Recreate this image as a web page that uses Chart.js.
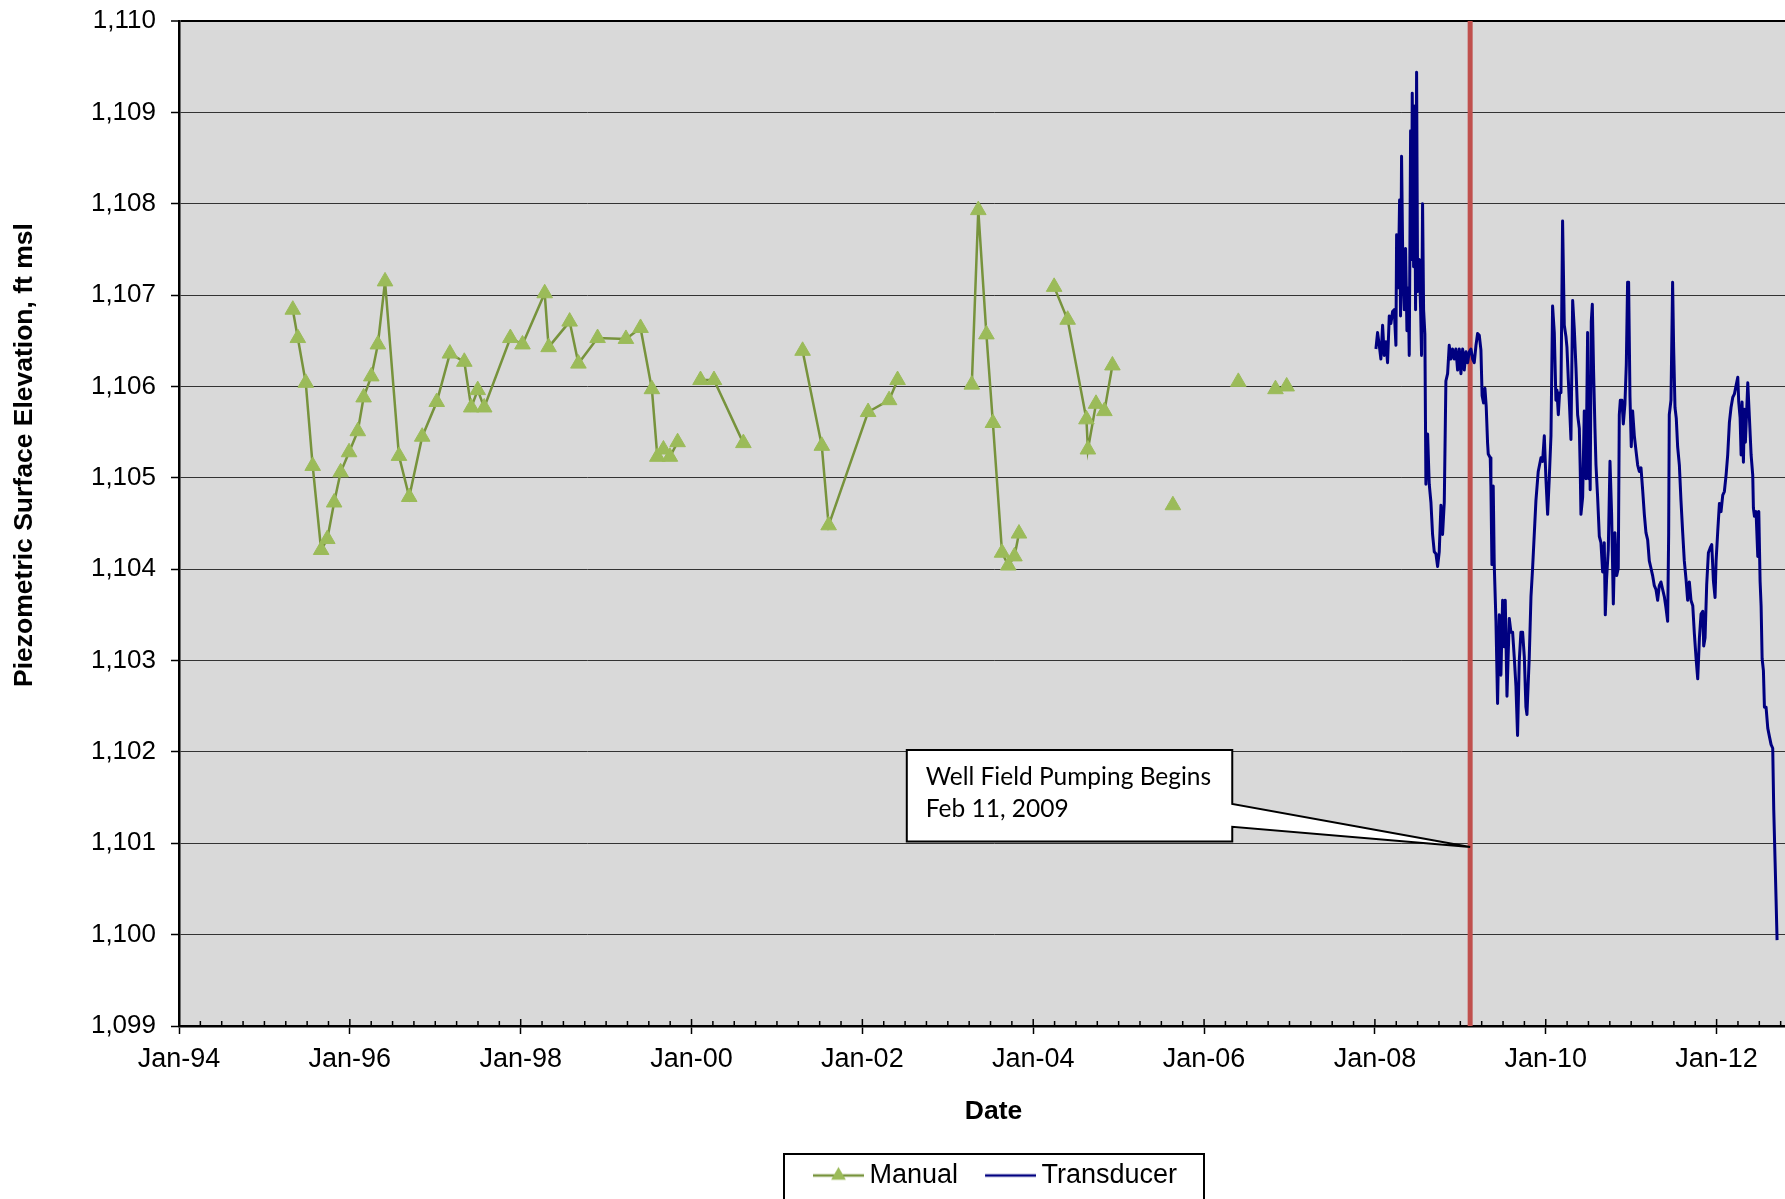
<!DOCTYPE html>
<html>
<head>
<meta charset="utf-8">
<script src="https://cdn.jsdelivr.net/npm/chart.js@4.4.1/dist/chart.umd.min.js"></script>
<style>
html,body{margin:0;padding:0;overflow:hidden;background:#fff;width:1785px;height:1199px;}
canvas{display:block;}
</style>
</head>
<body>
<canvas id="c" width="1818" height="1199"></canvas>
<script>
// ---------------- DATA ----------------
const manualYears = [1995.332,1995.391,1995.484,1995.565,1995.664,1995.736,1995.816,1995.892,1995.991,1996.093,
  1996.161,1996.251,1996.328,1996.412,1996.575,1996.695,1996.847,1997.017,1997.171,1997.340,
  1997.421,1997.497,1997.573,1997.879,1998.021,1998.281,1998.327,1998.573,1998.676,1998.900,
  1999.232,1999.403,1999.536,1999.600,1999.671,1999.747,1999.837,2000.105,2000.263,2000.607,
  2001.300,2001.525,2001.605,2002.067,2002.313,2002.412,2003.281,2003.357,2003.452,2003.528,
  2003.635,2003.708,2003.780,2003.833,2004.245,2004.403,2004.623,2004.640,2004.735,2004.833,
  2004.927,2005.635,2006.401,2006.836,2006.967];
const manualValues = [1106.84,1106.53,1106.04,1105.13,1104.21,1104.33,1104.73,1105.06,1105.28,1105.51,
  1105.88,1106.11,1106.46,1107.15,1105.24,1104.79,1105.45,1105.83,1106.36,1106.27,
  1105.77,1105.96,1105.77,1106.53,1106.46,1107.02,1106.43,1106.71,1106.25,1106.53,
  1106.52,1106.64,1105.97,1105.23,1105.31,1105.23,1105.39,1106.07,1106.07,1105.38,
  1106.39,1105.35,1104.48,1105.72,1105.85,1106.07,1106.02,1107.93,1106.57,1105.60,
  1104.18,1104.04,1104.14,1104.39,1107.09,1106.73,1105.64,1105.31,1105.81,1105.73,
  1106.23,1104.70,1106.05,1105.97,1106.00];
// indices after which the manual line is not connected
const manualBreakAfter = [36,39,45,53,60,61,62];

const transducerYears = [
  2008.012,2008.031,2008.051,2008.070,2008.090,2008.109,2008.129,2008.148,2008.168,2008.187,
  2008.207,2008.226,2008.246,2008.254,2008.273,2008.289,2008.300,2008.312,2008.328,2008.343,
  2008.359,2008.375,2008.390,2008.402,2008.418,2008.429,2008.437,2008.453,2008.464,2008.476,
  2008.488,2008.500,2008.519,2008.535,2008.546,2008.558,2008.570,2008.585,2008.597,2008.617,
  2008.636,2008.656,2008.675,2008.695,2008.714,2008.734,2008.753,2008.773,2008.792,2008.812,
  2008.831,2008.851,2008.870,2008.890,2008.909,2008.929,2008.948,2008.968,2008.988,2009.007,
  2009.027,2009.046,2009.066,2009.085,2009.105,2009.124,2009.144,2009.163,2009.183,2009.202,
  2009.222,2009.241,2009.255,2009.272,2009.288,2009.303,2009.319,2009.327,2009.350,2009.358,
  2009.370,2009.385,2009.397,2009.417,2009.436,2009.456,2009.475,2009.495,2009.514,2009.526,
  2009.546,2009.573,2009.592,2009.612,2009.631,2009.651,2009.670,2009.690,2009.709,2009.729,
  2009.749,2009.768,2009.780,2009.807,2009.827,2009.846,2009.885,2009.912,2009.944,2009.963,
  2009.983,2010.002,2010.022,2010.041,2010.061,2010.080,2010.100,2010.119,2010.131,2010.147,
  2010.162,2010.178,2010.197,2010.217,2010.236,2010.248,2010.264,2010.279,2010.295,2010.315,
  2010.334,2010.354,2010.373,2010.393,2010.404,2010.412,2010.432,2010.451,2010.471,2010.490,
  2010.502,2010.514,2010.520,2010.533,2010.545,2010.560,2010.576,2010.588,2010.607,2010.627,
  2010.646,2010.666,2010.685,2010.697,2010.712,2010.732,2010.752,2010.771,2010.791,2010.810,
  2010.830,2010.849,2010.861,2010.873,2010.892,2010.908,2010.927,2010.943,2010.958,2010.970,
  2010.986,2011.001,2011.017,2011.037,2011.056,2011.076,2011.095,2011.115,2011.134,2011.154,
  2011.173,2011.193,2011.212,2011.232,2011.251,2011.271,2011.290,2011.310,2011.329,2011.349,
  2011.368,2011.388,2011.407,2011.427,2011.439,2011.446,2011.466,2011.485,2011.497,2011.513,
  2011.528,2011.544,2011.564,2011.583,2011.603,2011.622,2011.642,2011.661,2011.681,2011.700,
  2011.721,2011.740,2011.760,2011.779,2011.799,2011.818,2011.838,2011.849,2011.865,2011.884,
  2011.904,2011.924,2011.943,2011.963,2011.982,2011.994,2012.013,2012.033,2012.052,2012.072,
  2012.091,2012.111,2012.130,2012.150,2012.169,2012.189,2012.209,2012.228,2012.248,2012.259,
  2012.275,2012.287,2012.298,2012.314,2012.326,2012.337,2012.353,2012.365,2012.384,2012.404,
  2012.423,2012.431,2012.443,2012.462,2012.482,2012.494,2012.509,2012.521,2012.533,2012.548,
  2012.560,2012.579,2012.599,2012.618,2012.638,2012.657,2012.669,2012.685,2012.696,2012.708];
const transducerValues = [
  1106.41,1106.59,1106.45,1106.30,1106.67,1106.34,1106.49,1106.26,1106.77,1106.69,
  1106.82,1106.84,1106.45,1107.66,1107.08,1108.04,1106.77,1108.52,1107.23,1106.84,
  1107.51,1106.61,1107.08,1106.34,1108.80,1107.39,1109.21,1107.31,1109.07,1106.84,
  1109.44,1107.04,1107.39,1106.84,1106.34,1108.00,1106.84,1106.57,1104.93,1105.48,
  1104.93,1104.73,1104.38,1104.19,1104.17,1104.03,1104.19,1104.70,1104.38,1104.73,
  1106.06,1106.14,1106.45,1106.30,1106.41,1106.30,1106.41,1106.18,1106.41,1106.14,
  1106.41,1106.18,1106.38,1106.26,1106.38,1106.41,1106.30,1106.26,1106.45,1106.58,
  1106.56,1106.40,1105.90,1105.82,1105.98,1105.78,1105.38,1105.26,1105.22,1104.91,
  1104.05,1104.91,1104.05,1103.43,1102.53,1103.50,1102.84,1103.66,1103.15,1103.66,
  1102.61,1103.46,1103.31,1103.31,1103.04,1102.72,1102.18,1103.00,1103.31,1103.31,
  1103.04,1102.49,1102.41,1103.04,1103.70,1104.01,1104.75,1105.07,1105.22,1105.18,
  1105.46,1104.99,1104.60,1104.99,1105.46,1106.88,1106.59,1105.85,1105.96,1105.69,
  1105.93,1105.93,1107.81,1106.67,1106.55,1106.43,1106.08,1105.77,1105.42,1106.94,
  1106.63,1106.20,1105.69,1105.54,1105.07,1104.60,1104.79,1105.73,1104.99,1106.59,
  1104.99,1105.38,1104.87,1106.71,1106.90,1106.16,1105.54,1105.14,1104.79,1104.36,
  1104.29,1103.97,1104.29,1103.50,1103.89,1104.21,1105.18,1104.60,1103.62,1104.40,
  1103.93,1104.01,1105.69,1105.85,1105.85,1105.59,1105.81,1106.24,1107.14,1107.14,
  1105.89,1105.34,1105.73,1105.46,1105.30,1105.14,1105.07,1105.11,1104.87,1104.60,
  1104.40,1104.32,1104.09,1104.01,1103.93,1103.82,1103.78,1103.66,1103.82,1103.86,
  1103.78,1103.70,1103.58,1103.43,1104.40,1105.69,1105.85,1107.14,1106.43,1105.77,
  1105.65,1105.34,1105.14,1104.75,1104.40,1104.09,1103.89,1103.66,1103.86,1103.66,
  1103.60,1103.29,1103.02,1102.80,1103.25,1103.51,1103.54,1103.16,1103.25,1103.83,
  1104.18,1104.23,1104.27,1103.87,1103.69,1104.09,1104.41,1104.72,1104.63,1104.81,
  1104.85,1105.03,1105.25,1105.61,1105.77,1105.88,1105.92,1106.01,1106.10,1105.83,
  1105.66,1105.25,1105.83,1105.17,1105.75,1105.39,1105.75,1106.04,1105.66,1105.25,
  1105.03,1104.67,1104.58,1104.63,1104.14,1104.63,1103.87,1103.60,1103.02,1102.89,
  1102.49,1102.49,1102.26,1102.17,1102.08,1102.04,1101.37,1100.79,1100.39,1099.94];

const pumpStartYear = 2009.115; // Feb 11, 2009
const seriesNames = ['Manual', 'Transducer'];
const xTickYears  = [1994,1996,1998,2000,2002,2004,2006,2008,2010,2012];
const xTickLabels = ['Jan-94','Jan-96','Jan-98','Jan-00','Jan-02','Jan-04','Jan-06','Jan-08','Jan-10','Jan-12'];
const yTickValues = [1099,1100,1101,1102,1103,1104,1105,1106,1107,1108,1109,1110];
const yTickLabels = ['1,099','1,100','1,101','1,102','1,103','1,104','1,105','1,106','1,107','1,108','1,109','1,110'];
const xAxisTitle = 'Date';
const yAxisTitle = 'Piezometric Surface Elevation, ft msl';
const calloutLines = ['Well Field Pumping Begins', 'Feb 11, 2009'];

// ---------------- LAYOUT / STYLE ----------------
const X_MIN = 1994, X_MAX = 2013.07;
const FONT = "'Liberation Sans', Arial, sans-serif";
const callout = {x0: 2002.52, x1: 2006.33, yTop: 1102.02, yBottom: 1101.02,
                 wedgeTop: 1101.43, wedgeBottom: 1101.18, tipY: 1100.96};

function makeIcon(withMarker, color, fill) {
  const c = document.createElement('canvas');
  c.width = 62; c.height = 22;
  const g = c.getContext('2d');
  g.strokeStyle = color; g.lineWidth = 2.5;
  g.beginPath(); g.moveTo(11, 11); g.lineTo(62, 11); g.stroke();
  if (withMarker) {
    const cx = 36.5, cy = 11, r = 8.5;
    g.fillStyle = fill;
    g.beginPath();
    g.moveTo(cx, cy - r);
    g.lineTo(cx + r * 0.866, cy + r / 2);
    g.lineTo(cx - r * 0.866, cy + r / 2);
    g.closePath(); g.fill();
  }
  return c;
}
const manualIcon = makeIcon(true, '#77933C', '#9BBB59');
const transIcon = makeIcon(false, '#000080');

const decorPlugin = {
  id: 'decor',
  beforeDraw(chart) {
    const {ctx, chartArea: a} = chart;
    ctx.save();
    ctx.fillStyle = '#ffffff';
    ctx.fillRect(0, 0, chart.width, chart.height);
    ctx.fillStyle = '#D9D9D9';
    ctx.fillRect(a.left, a.top, a.right - a.left, a.bottom - a.top);
    ctx.restore();
  },
  afterDatasetsDraw(chart) {
    const {ctx, chartArea: a, scales: {x, y}} = chart;
    ctx.save();
    // inner tick marks on the date axis (quarterly, longer at labelled years)
    ctx.strokeStyle = '#000'; ctx.lineWidth = 1.5;
    for (let q = X_MIN * 4; q <= Math.floor(X_MAX * 4); q++) {
      const v = q / 4;
      const px = x.getPixelForValue(v);
      const major = xTickYears.includes(v);
      ctx.beginPath();
      ctx.moveTo(px, a.bottom);
      ctx.lineTo(px, a.bottom - (major ? 7 : 5));
      ctx.stroke();
    }
    // callout
    const L = x.getPixelForValue(callout.x0), R = x.getPixelForValue(callout.x1);
    const T = y.getPixelForValue(callout.yTop), B = y.getPixelForValue(callout.yBottom);
    const w1 = y.getPixelForValue(callout.wedgeTop), w2 = y.getPixelForValue(callout.wedgeBottom);
    const tx = x.getPixelForValue(pumpStartYear), ty = y.getPixelForValue(callout.tipY);
    ctx.beginPath();
    ctx.moveTo(L, T); ctx.lineTo(R, T); ctx.lineTo(R, w1); ctx.lineTo(tx, ty);
    ctx.lineTo(R, w2); ctx.lineTo(R, B); ctx.lineTo(L, B); ctx.closePath();
    ctx.fillStyle = '#fff'; ctx.fill();
    ctx.lineWidth = 2; ctx.lineJoin = 'miter'; ctx.strokeStyle = '#000'; ctx.stroke();
    ctx.fillStyle = '#000';
    ctx.font = "24.5px Lato, 'Open Sans', sans-serif";
    ctx.textAlign = 'left'; ctx.textBaseline = 'alphabetic';
    calloutLines.forEach((t, i) => ctx.fillText(t, L + 19, T + 35 + i * 32));
    ctx.restore();
  },
  afterDraw(chart) {
    const {ctx} = chart;
    ctx.save();
    // y-axis title
    ctx.translate(25, 455);
    ctx.rotate(-Math.PI / 2);
    ctx.fillStyle = '#000';
    ctx.font = 'bold 26.5px ' + FONT;
    ctx.textAlign = 'center'; ctx.textBaseline = 'middle';
    ctx.fillText(yAxisTitle, 0, 0);
    ctx.restore();
    // legend frame
    ctx.save();
    ctx.strokeStyle = '#000'; ctx.lineWidth = 2;
    ctx.strokeRect(784, 1154, 420, 60);
    ctx.restore();
  }
};

new Chart(document.getElementById('c'), {
  type: 'line',
  data: {
    datasets: [
      {
        label: seriesNames[0],
        data: manualYears.map((v, i) => ({x: v, y: manualValues[i]})),
        borderColor: '#77933C', borderWidth: 2.5, tension: 0,
        pointStyle: 'triangle', pointRadius: 9, pointHoverRadius: 9,
        pointBackgroundColor: '#9BBB59', pointBorderColor: '#9BBB59', pointBorderWidth: 1,
        segment: {borderColor: c => manualBreakAfter.includes(c.p0DataIndex) ? 'rgba(0,0,0,0)' : undefined},
        order: 1
      },
      {
        label: seriesNames[1],
        data: transducerYears.map((v, i) => ({x: v, y: transducerValues[i]})),
        borderColor: '#000080', borderWidth: 3, tension: 0, pointRadius: 0,
        borderJoinStyle: 'round',
        order: 2
      },
      {
        label: 'Pumping start',
        data: [{x: pumpStartYear, y: yTickValues[0]}, {x: pumpStartYear, y: yTickValues[yTickValues.length - 1]}],
        borderColor: '#C0504D', borderWidth: 5, pointRadius: 0,
        order: 3
      }
    ]
  },
  options: {
    responsive: false,
    animation: false,
    layout: {padding: {top: 21, left: 0, right: 0, bottom: 0}},
    plugins: {
      tooltip: {enabled: false},
      legend: {
        display: true,
        position: 'bottom',
        fullSize: false,
        labels: {
          usePointStyle: true,
          pointStyleWidth: 46,
          padding: 24,
          color: '#000',
          font: {family: FONT, size: 27},
          generateLabels: () => [
            {text: seriesNames[0], pointStyle: manualIcon, datasetIndex: 0, hidden: false,
             fillStyle: '#9BBB59', strokeStyle: '#77933C', lineWidth: 0, fontColor: '#000'},
            {text: seriesNames[1], pointStyle: transIcon, datasetIndex: 1, hidden: false,
             fillStyle: '#000080', strokeStyle: '#000080', lineWidth: 0, fontColor: '#000'}
          ]
        }
      }
    },
    scales: {
      x: {
        type: 'linear',
        min: X_MIN, max: X_MAX,
        afterBuildTicks: s => { s.ticks = xTickYears.map(v => ({value: v})); },
        afterFit: s => { s.height = 112; s.paddingLeft = 0; s.paddingRight = 0; },
        ticks: {
          callback: (v, i) => xTickLabels[i],
          autoSkip: false, maxRotation: 0, minRotation: 0,
          color: '#000', font: {family: FONT, size: 27}, padding: 9
        },
        grid: {drawOnChartArea: false, drawTicks: true, tickLength: 8, tickColor: '#000', tickWidth: 1.5},
        border: {display: true, color: '#000', width: 2.5},
        title: {display: true, text: xAxisTitle, color: '#000',
                font: {family: FONT, size: 26.5, weight: 'bold'}, padding: {top: 0, bottom: 10}}
      },
      y: {
        type: 'linear',
        min: yTickValues[0], max: yTickValues[yTickValues.length - 1],
        afterBuildTicks: s => { s.ticks = yTickValues.map(v => ({value: v})); },
        afterFit: s => { s.width = 179; s.paddingTop = 0; s.paddingBottom = 0; },
        ticks: {
          callback: (v, i) => yTickLabels[i],
          color: '#000', font: {family: FONT, size: 26}, padding: 15
        },
        grid: {
          color: c => (c.tick && c.tick.value === 1110) ? '#000' : '#333333',
          lineWidth: c => (c.tick && c.tick.value === 1110) ? 2 : 1,
          tickLength: 8, tickColor: '#000', tickWidth: 1.5
        },
        border: {display: true, color: '#000', width: 2.5}
      }
    }
  },
  plugins: [decorPlugin]
});
</script>
</body>
</html>
